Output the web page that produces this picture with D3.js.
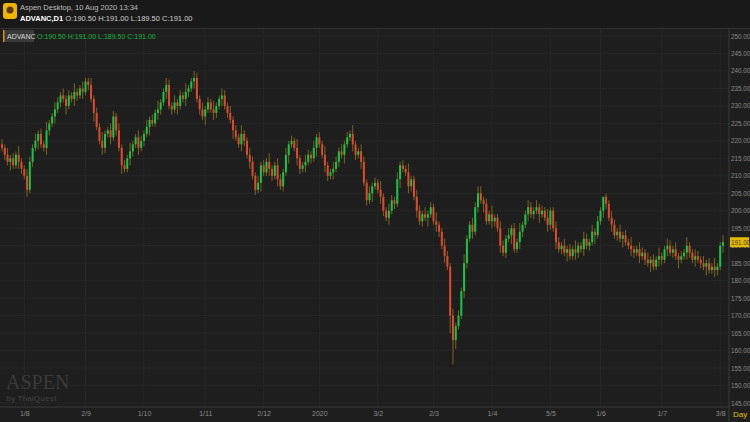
<!DOCTYPE html>
<html><head><meta charset="utf-8">
<script src="https://cdn.jsdelivr.net/npm/d3@7"></script>
<style>body{margin:0;background:#1e1e1e;}svg{display:block;font-family:"Liberation Sans",Arial,sans-serif;}</style>
</head><body><svg id="c" width="750" height="422"></svg>
<script>
const closes = [
218,216,214,215,213,216,214,212,210,206,
214,218,220,222,219,218,223,225,227,229,
231,233,232,230,233,232,234,233,235,234,
237,236,232,228,224,220,218,222,223,221,
227,223,218,213,212,215,217,219,221,218,
220,222,224,226,225,228,229,231,234,236,
230,229,231,230,233,232,234,235,237,238,
232,229,227,229,231,229,228,230,232,233,
230,228,226,223,221,219,222,220,216,214,
210,206,208,213,211,214,212,210,213,209,
207,211,216,219,220,218,215,212,213,214,
216,215,218,221,219,216,213,210,211,212,
214,217,216,219,221,222,219,216,217,214,
208,203,205,207,208,206,204,200,198,200,
203,202,209,213,212,211,207,209,204,200,
197,199,198,199,201,197,196,194,190,187,
184,170,163,167,170,177,185,192,196,194,
201,205,203,202,197,199,197,198,195,190,
188,192,193,195,189,191,194,196,199,201,
199,200,201,199,200,198,196,200,195,191,
189,190,188,189,187,189,188,190,189,192,
190,191,194,193,197,200,204,202,198,196,
193,194,192,193,191,190,189,188,189,187,
188,186,185,186,184,186,187,186,189,190,
188,189,187,186,187,188,190,188,186,187,
186,185,184,185,183,184,183,184,190,191];
const firstOpen = 219;
const wicks = [1.5,1,2,1,1.5,1,2.5,1,1,2];
const extremeLows = [[162,156],[161,165]];
const extremeHighs = [[30,238],[69,240],[171,207],[216,204]];
const tickLabels = ["1/8","2/9","1/10","1/11","2/12","2020","3/2","2/3","1/4","5/5","1/6","1/7","3/8"];
const tickIndex = [8,30,51,73,94,114,135,155,176,197,215,237,258];
const priceTicks = d3.range(145,251,5);
const lastPrice = 191;

const svg = d3.select("#c");
const W=750,H=422, L=0, R=729, T=29, B=407;
svg.append("rect").attr("width",W).attr("height",H).attr("fill","#1e1e1e");
svg.append("rect").attr("width",W).attr("height",28).attr("fill","#191919");

const x = d3.scaleLinear().domain([0,closes.length-1]).range([2,723]);
const y = d3.scaleLinear().domain([145,250]).range([403,36]);

const g = svg.append("g");
priceTicks.forEach(v=>g.append("line").attr("x1",L).attr("x2",R).attr("y1",y(v)).attr("y2",y(v)).attr("stroke","#262626"));
tickIndex.forEach(i=>g.append("line").attr("x1",x(i)).attr("x2",x(i)).attr("y1",T).attr("y2",B).attr("stroke","#262626"));
svg.append("line").attr("x1",R).attr("x2",R).attr("y1",T).attr("y2",H).attr("stroke","#3a3a3a");
svg.append("line").attr("x1",0).attr("x2",R).attr("y1",B).attr("y2",B).attr("stroke","#3a3a3a");
svg.append("line").attr("x1",0).attr("x2",W).attr("y1",28.5).attr("y2",28.5).attr("stroke","#333");

svg.append("text").attr("x",6).attr("y",389).attr("fill","#3a3a3a").attr("font-family","Liberation Serif,serif").attr("font-size",20).text("ASPEN");
svg.append("text").attr("x",6).attr("y",401).attr("fill","#3a3a3a").attr("font-size",8).attr("font-weight","bold").text("by ThaiQuest");

const data = closes.map((c,i)=>{
  const o = i===0?firstOpen:closes[i-1];
  let h = Math.max(o,c)+wicks[i%wicks.length], l = Math.min(o,c)-wicks[(i+3)%wicks.length];
  extremeLows.forEach(([k,v])=>{if(k===i) l=v;});
  extremeHighs.forEach(([k,v])=>{if(k===i) h=v;});
  return {i,o,c,h,l};
});
const cg = svg.append("g");
cg.selectAll("line.w").data(data).join("line").attr("x1",d=>x(d.i)).attr("x2",d=>x(d.i))
  .attr("y1",d=>y(d.h)).attr("y2",d=>y(d.l)).attr("stroke","#7a6420").attr("stroke-width",1);
cg.selectAll("rect").data(data).join("rect").attr("x",d=>x(d.i)-1).attr("width",2)
  .attr("y",d=>y(Math.max(d.o,d.c))).attr("height",d=>Math.max(1,Math.abs(y(d.o)-y(d.c))))
  .attr("fill",d=>d.c>=d.o?"#12c845":"#e5472c");

const ax = svg.append("g").attr("transform",`translate(${R},0)`)
  .call(d3.axisRight(y).tickValues(priceTicks).tickFormat(d3.format(".2f")).tickSize(0).tickPadding(2));
ax.select(".domain").remove();
ax.selectAll("text").attr("fill","#8a8a8a").attr("font-size",6.3);
const xa = svg.append("g").attr("transform",`translate(0,${B})`)
  .call(d3.axisBottom(x).tickValues(tickIndex).tickFormat((d,k)=>tickLabels[k]).tickSize(0).tickPadding(4));
xa.select(".domain").remove();
xa.selectAll("text").attr("fill","#8a8a8a").attr("font-size",7);
svg.append("text").attr("x",733).attr("y",417).attr("fill","#e0c000").attr("font-size",8).text("Day");

svg.append("rect").attr("x",R+1).attr("y",y(lastPrice)-5).attr("width",19).attr("height",10).attr("fill","#e2b800");
svg.append("text").attr("x",R+2).attr("y",y(lastPrice)+2.3).attr("fill","#4a3a00").attr("font-size",6.3).text(lastPrice.toFixed(2));

svg.append("rect").attr("x",3).attr("y",3).attr("width",14).attr("height",16).attr("rx",3).attr("fill","#f0b400");
svg.append("circle").attr("cx",10).attr("cy",10).attr("r",3.5).attr("fill","#5a3a00");
svg.append("text").attr("x",20).attr("y",10).attr("fill","#bdbdbd").attr("font-size",7.5).text("Aspen Desktop, 10 Aug 2020 13:34");
svg.append("text").attr("x",20).attr("y",21).attr("fill","#ffffff").attr("font-size",7.5)
  .html('<tspan font-weight="bold">ADVANC,D1</tspan><tspan fill="#d0d0d0"> O:190.50 H:191.00 L:189.50 C:191.00</tspan>');
svg.append("rect").attr("x",3).attr("y",30).attr("width",31).attr("height",12).attr("fill","#3a3a3a");
svg.append("rect").attr("x",3).attr("y",30).attr("width",1.5).attr("height",12).attr("fill","#e09000");
svg.append("text").attr("x",7).attr("y",39).attr("fill","#d8d8d8").attr("font-size",7).text("ADVANC");
svg.append("text").attr("x",37).attr("y",39).attr("fill","#18b83c").attr("font-size",7).text("O:190.50  H:191.00  L:189.50  C:191.00");
</script></body></html>
